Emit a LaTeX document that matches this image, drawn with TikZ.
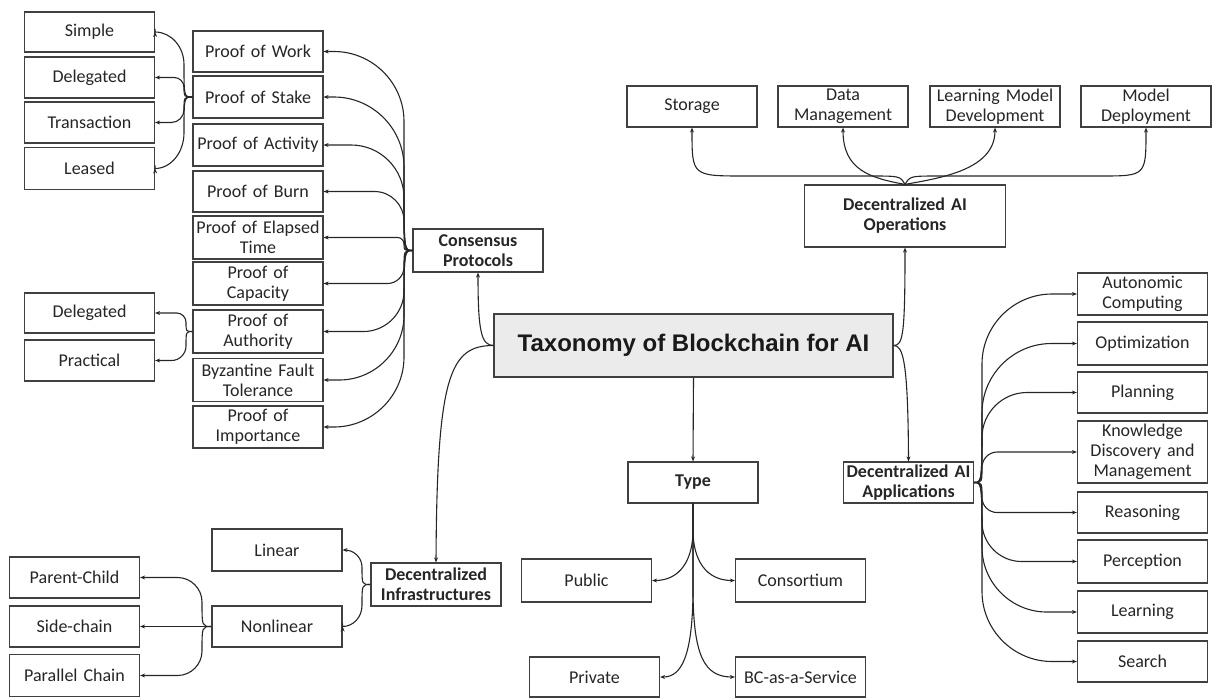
\documentclass[tikz,border=0pt]{standalone}
\usepackage{fontspec}
\setmainfont{Carlito}
\newfontfamily\titlefont{Liberation Sans}
\usetikzlibrary{arrows.meta,calc}
\begin{document}
\begin{tikzpicture}[x=1pt,y=-1pt,
  box/.style={draw=black!75, line width=1.2pt, fill=white, inner sep=0pt, align=center,
    text=black!85, font=\fontsize{18}{20}\selectfont,
    minimum width=130pt, minimum height=42pt, text width=127pt},
  bbox/.style={box, font=\bfseries\fontsize{18}{20}\selectfont},
  arr/.style={draw=black!85, line width=1.1pt, -{Stealth[length=5pt,width=4pt]}},
  br/.style 2 args={to path={let \p1=(\tikztostart), \p2=(\tikztotarget),
      \n1={min(abs(\y2-\y1)/2,#2)}, \n2={sign(\y2-\y1)},
      \n3={min(\n1,abs(\x2-#1pt))}, \n4={sign(\x2-#1pt)} in
      .. controls (#1pt,\y1) .. (#1pt,{\y1+\n2*\n1}) -- (#1pt,{\y2-\n2*\n1})
      .. controls (#1pt,{\y2-0.45*\n2*\n1}) and ({#1pt+0.45*\n4*\n3},\y2)
      .. ({#1pt+\n4*\n3},\y2) -- (\tikztotarget) \tikztonodes}}
]
\useasboundingbox (0,0) rectangle (1214,699);

% column 1
\node[box, minimum height=40pt] (simple) at (89.5,32) {Simple};
\node[box, minimum height=41pt] (del1) at (89.5,77.5) {Delegated};
\node[box, minimum height=41pt] (trans) at (89.5,122.5) {Transaction};
\node[box, minimum height=42pt] (leased) at (89.5,168.5) {Leased};
\node[box, minimum height=40pt] (del2) at (89.5,313) {Delegated};
\node[box, minimum height=41pt] (pract) at (89.5,360.5) {Practical};

% column 2
\node[box, minimum height=41pt] (pow) at (258,51.5) {Proof of Work};
\node[box, minimum height=42pt] (pos) at (258,97) {Proof of Stake};
\node[box, minimum height=42pt] (poa) at (258,145) {Proof of Activity};
\node[box, minimum height=41pt] (pob) at (258,191.5) {Proof of Burn};
\node[box, minimum height=43pt] (poet) at (258,237.5) {Proof of Elapsed\\Time};
\node[box, minimum height=43pt] (poc) at (258,283.5) {Proof of\\Capacity};
\node[box, minimum height=43pt] (poau) at (258,331.5) {Proof of\\Authority};
\node[box, minimum height=43pt] (bft) at (258,380) {Byzantine Fault\\Tolerance};
\node[box, minimum height=42pt] (poi) at (258,427) {Proof of\\Importance};

\node[bbox, minimum height=43pt] (cp) at (478,250.5) {Consensus\\Protocols};

% title
\node[draw=black!75, line width=1.2pt, fill=black!8, inner sep=0pt,
  minimum width=399pt, minimum height=63pt, text=black!90,
  font=\titlefont\bfseries\fontsize{24}{28}\selectfont] (title) at (693.5,345.5)
  {Taxonomy of Blockchain for AI};

% type
\node[bbox, minimum height=41pt] (type) at (693,482.5) {Type};
\node[box, minimum height=43pt] (public) at (586.5,580.5) {Public};
\node[box, minimum height=43pt] (consort) at (800.5,580.5) {Consortium};
\node[box, minimum height=40pt] (private) at (594.5,677) {Private};
\node[box, minimum height=40pt] (bcaas) at (800.5,677) {BC-as-a-Service};

% infrastructures
\node[bbox, minimum height=43pt] (di) at (436,584.5) {Decentralized\\Infrastructures};
\node[box, minimum height=42pt] (linear) at (277,550) {Linear};
\node[box, minimum height=41pt] (nonlin) at (277,626.5) {Nonlinear};
\node[box, minimum height=41pt] (pc) at (74.5,577.5) {Parent-Child};
\node[box, minimum height=41pt] (sc) at (74.5,626.5) {Side-chain};
\node[box, minimum height=42pt] (par) at (74.5,675.5) {Parallel Chain};

% operations
\node[bbox, minimum width=201pt, text width=195pt, minimum height=62pt] (dao) at (905,216) {Decentralized AI\\Operations};
\node[box, minimum height=41pt] (storage) at (692,106.5) {Storage};
\node[box, minimum height=41pt] (dm) at (843,106.5) {Data\\Management};
\node[box, minimum height=41pt] (lmd) at (995,106.5) {Learning Model\\Development};
\node[box, minimum height=41pt] (md) at (1146,106.5) {Model\\Deployment};

% applications
\node[bbox, minimum height=41pt] (daa) at (908.5,482.5) {Decentralized AI\\Applications};
\node[box, minimum height=42pt] (ac) at (1142.5,294) {Autonomic\\Computing};
\node[box, minimum height=43pt] (opt) at (1142.5,343.5) {Optimization};
\node[box, minimum height=41pt] (plan) at (1142.5,392.5) {Planning};
\node[box, minimum height=62pt] (kdm) at (1142.5,452) {Knowledge\\Discovery and\\Management};
\node[box, minimum height=41pt] (reas) at (1142.5,512.5) {Reasoning};
\node[box, minimum height=43pt] (perc) at (1142.5,561.5) {Perception};
\node[box, minimum height=42pt] (learn) at (1142.5,612) {Learning};
\node[box, minimum height=41pt] (search) at (1142.5,661.5) {Search};

% ---- connectors ----
% title
\draw[arr] (title.south) -- (type.north);
\draw[arr] (title.west) .. controls (481,345.5) and (478,330) .. (cp.south);
\draw[arr] (title.west) .. controls (450,345.5) and (437,375) .. (di.north);
\draw[arr] (title.east) .. controls (903,345.5) and (905,335) .. (dao.south);
\draw[arr] (title.east) .. controls (903,345.5) and (908,360) .. (daa.north);

% consensus fan
\foreach \t in {pow,pos,poa,pob,poet,poc,poau,bft,poi}
  \draw[arr] (cp.west) to[br={404}{70}] (\t.east);
% proof of stake fan
\foreach \t in {simple,del1,trans,leased}
  \draw[arr] (pos.west) to[br={184}{40}] (\t.east);
% proof of authority fan
\foreach \t in {del2,pract}
  \draw[arr] (poau.west) to[br={186}{40}] (\t.east);

% infrastructures
\foreach \t in {linear,nonlin}
  \draw[arr] (di.west) to[br={362}{40}] (\t.east);
\draw[arr] (nonlin.west) to[br={202}{40}] (pc.east);
\draw[arr] (nonlin.west) -- (sc.east);
\draw[arr] (nonlin.west) to[br={202}{40}] (par.east);

% type fan
\draw[arr] (type.south) -- (693,530) .. controls (693,560) and (680,580.5) .. (public.east);
\draw[arr] (type.south) -- (693,530) .. controls (693,560) and (706,580.5) .. (consort.west);
\draw[arr] (type.south) -- (693,595) .. controls (692,655) and (682,677) .. (private.east);
\draw[arr] (type.south) -- (693,595) .. controls (694,655) and (704,677) .. (bcaas.west);

% operations fan
\draw[arr] (dao.north) .. controls (900,176) .. (870,176) -- (745,176) .. controls (692,176) .. (storage.south);
\draw[arr] (dao.north) .. controls (870,178) and (843,170) .. (dm.south);
\draw[arr] (dao.north) .. controls (940,178) and (995,170) .. (lmd.south);
\draw[arr] (dao.north) .. controls (910,176) .. (940,176) -- (1100,176) .. controls (1146,176) .. (md.south);

% applications fan
\foreach \t in {ac,opt,plan,kdm,reas,perc,learn,search}
  \draw[arr] (daa.east) to[br={982}{70}] (\t.west);
\end{tikzpicture}
\end{document}
